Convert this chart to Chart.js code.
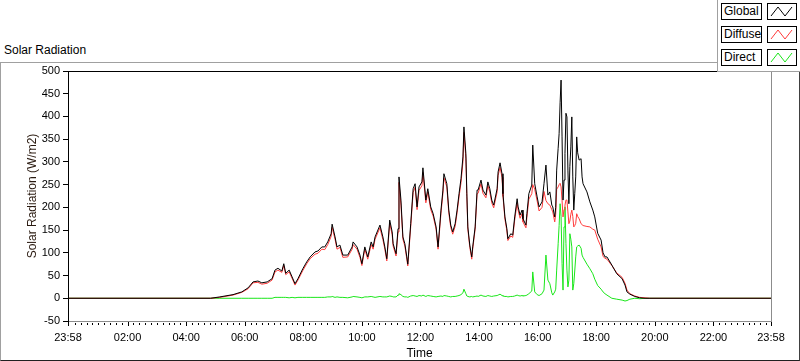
<!DOCTYPE html>
<html>
<head>
<meta charset="utf-8">
<script src="https://cdn.jsdelivr.net/npm/chart.js@4.4.1/dist/chart.umd.min.js"></script>
<style>
html, body { margin: 0; padding: 0; background: #fff; }
#wrap { position: relative; width: 800px; height: 361px; overflow: hidden; font-family: "Liberation Sans", Arial, sans-serif; }
#frame { position: absolute; left: 0; top: 62px; width: 798px; height: 297px; border-left: 1px solid #a0a0a0; border-top: 1px solid #a0a0a0; border-right: 1px solid #404040; border-bottom: 1px solid #202020; }
#caption { position: absolute; left: 4px; top: 43px; font-size: 12px; color: #000; }
canvas { position: absolute; left: 0; top: 0; }
#legend { position: absolute; left: 717px; top: 0; width: 83px; height: 72px; background: #fff; border-left: 1px solid #a0a0a0; border-bottom: 1px solid #a0a0a0; box-sizing: border-box; }
.lab { position: absolute; left: 3px; width: 41px; height: 17px; border: 1px solid #000; box-sizing: border-box; font-size: 12px; line-height: 15px; padding-left: 2px; color: #000; }
.sw { position: absolute; left: 49px; width: 30px; height: 17px; border: 1px solid #000; box-sizing: border-box; }
.sw svg { position: absolute; left: 0; top: 0; }
</style>
</head>
<body>
<div id="wrap">
  <div id="frame"></div>
  <div id="caption">Solar Radiation</div>
  <canvas id="myChart" width="800" height="361"></canvas>
  <div id="legend">
    <div class="lab" style="top:3px">Global</div>
    <div class="sw" style="top:3px"><svg width="28" height="15"><polyline points="3,12 10,3 17,12 24,3" fill="none" stroke="#000" stroke-width="1"/></svg></div>
    <div class="lab" style="top:26px">Diffuse</div>
    <div class="sw" style="top:26px"><svg width="28" height="15"><polyline points="3,12 10,3 17,12 24,3" fill="none" stroke="#ff3b3b" stroke-width="1"/></svg></div>
    <div class="lab" style="top:49px">Direct</div>
    <div class="sw" style="top:49px"><svg width="28" height="15"><polyline points="3,12 10,3 17,12 24,3" fill="none" stroke="#19e619" stroke-width="1"/></svg></div>
  </div>
</div>
<script>
// sample times (HH:MM) shared by the three series
const times = [
  '00:00','04:50','05:09','05:36','05:54','06:07','06:17','06:27','06:35','06:46',
  '06:56','07:02','07:08','07:16','07:20','07:24','07:31','07:37','07:43','07:49',
  '07:59','08:07','08:14','08:24','08:30','08:38','08:44','08:50','08:57','08:59',
  '09:05','09:09','09:15','09:21','09:31','09:40','09:42','09:50','09:56','10:00',
  '10:06','10:12','10:19','10:23','10:27','10:37','10:43','10:47','10:51','10:57',
  '11:02','11:04','11:10','11:14','11:16','11:20','11:24','11:28','11:32','11:34',
  '11:40','11:45','11:49','11:53','11:57','12:03','12:05','12:11','12:15','12:21',
  '12:26','12:32','12:36','12:42','12:46','12:48','12:54','12:58','13:02','13:06',
  '13:11','13:15','13:19','13:23','13:27','13:29','13:33','13:35','13:37','13:41',
  '13:45','13:47','13:52','13:56','13:58','14:04','14:08','14:14','14:18','14:22',
  '14:26','14:30','14:37','14:39','14:43','14:47','14:49','14:53','14:57','14:59',
  '15:05','15:09','15:13','15:18','15:20','15:24','15:28','15:30','15:36','15:38',
  '15:42','15:48','15:50','15:54','15:59','16:03','16:09','16:13','16:17','16:21',
  '16:25','16:29','16:31','16:35','16:37','16:39','16:42','16:44','16:46','16:48',
  '16:50','16:52','16:54','16:56','16:58','17:00','17:02','17:04','17:06','17:08',
  '17:10','17:12','17:14','17:16','17:18','17:20','17:22','17:25','17:29','17:31',
  '17:33','17:41','17:47','17:53','17:57','18:03','18:10','18:14','18:18','18:22',
  '18:32','18:42','18:53','18:59','19:03','19:09','19:19','19:29','19:40','19:50',
  '23:58'
];
const globalRad = [
  0, 0, 3, 8, 14, 23, 36, 38, 34, 36,
  43, 62, 66, 60, 76, 55, 62, 47, 32, 43,
  65, 80, 91, 102, 104, 113, 113, 124, 142, 163,
  135, 113, 117, 95, 95, 113, 124, 113, 95, 76,
  113, 91, 124, 113, 135, 161, 135, 113, 87, 172,
  146, 120, 98, 153, 267, 216, 135, 120, 91, 75,
  164, 241, 252, 201, 245, 256, 287, 216, 241, 201,
  186, 157, 113, 194, 238, 274, 252, 194, 161, 146,
  164, 194, 230, 263, 311, 377, 318, 230, 157, 117,
  91, 113, 157, 238, 238, 260, 238, 227, 256, 241,
  216, 205, 241, 278, 298, 274, 230, 179, 153, 131,
  142, 139, 179, 219, 201, 183, 194, 175, 161, 186,
  230, 249, 337, 252, 223, 201, 212, 252, 293, 227,
  234, 205, 201, 179, 200, 282, 330, 362, 430, 480,
  355, 216, 260, 318, 407, 399, 282, 208, 290, 333,
  399, 267, 194, 230, 267, 355, 320, 304, 307, 267,
  252, 234, 212, 194, 179, 143, 128, 100, 91, 91,
  73, 54, 43, 29, 14, 9, 4, 1, 0, 0,
  0
];
const diffuseRad = [
  0, 0, 2, 7, 13, 21, 34, 35, 31, 33,
  40, 58, 62, 57, 72, 52, 58, 44, 29, 40,
  61, 76, 87, 97, 99, 108, 107, 118, 136, 156,
  130, 108, 112, 90, 91, 108, 118, 108, 90, 72,
  108, 86, 118, 108, 130, 155, 129, 108, 82, 165,
  140, 115, 93, 146, 255, 205, 130, 115, 86, 71,
  157, 233, 244, 195, 237, 248, 277, 210, 234, 195,
  181, 152, 108, 187, 231, 265, 245, 188, 156, 141,
  158, 188, 223, 254, 300, 365, 308, 224, 152, 112,
  86, 108, 152, 230, 231, 252, 231, 221, 248, 234,
  210, 199, 234, 270, 288, 266, 224, 174, 148, 127,
  137, 134, 172, 210, 194, 176, 186, 168, 155, 178,
  218, 230, 250, 240, 214, 192, 200, 235, 215, 208,
  205, 195, 190, 168, 185, 240, 245, 250, 253, 245,
  215, 179, 195, 205, 216, 216, 190, 164, 170, 185,
  194, 180, 157, 160, 165, 186, 180, 175, 164, 162,
  160, 158, 157, 152, 150, 130, 113, 92, 88, 86,
  72, 56, 46, 33, 18, 10, 5, 2, 1, 0,
  0
];
const directRad = [
  0, 0, 0, 0, 0, 0, 0, 0, 0, 0,
  0, 2, 2, 2, 2, 2, 1, 2, 1, 2,
  2, 2, 2, 2, 2, 2, 2, 3, 3, 4,
  2, 3, 2, 2, 1, 3, 4, 3, 2, 1,
  3, 3, 4, 3, 2, 4, 3, 3, 3, 5,
  4, 3, 3, 7, 10, 8, 4, 3, 3, 2,
  5, 6, 5, 4, 6, 5, 7, 4, 6, 5,
  4, 3, 4, 5, 4, 6, 5, 4, 3, 4,
  4, 5, 6, 8, 12, 20, 10, 5, 4, 3,
  4, 3, 4, 5, 4, 7, 5, 4, 6, 5,
  4, 5, 6, 7, 9, 6, 5, 4, 4, 3,
  4, 4, 5, 7, 6, 5, 6, 5, 6, 7,
  10, 16, 58, 14, 8, 6, 10, 18, 95, 40,
  32, 12, 7, 14, 20, 62, 120, 160, 208, 180,
  77, 18, 157, 201, 120, 62, 25, 40, 142, 130,
  113, 18, 32, 60, 91, 113, 115, 117, 110, 95,
  90, 75, 65, 54, 42, 28, 20, 14, 10, 7,
  0, -2, -4, -6, -5, -2, 0, -1, 0, 0,
  0
];
// x axis tick positions in minutes (first one is 23:58 of the previous day)
const xTickMinutes = [-2, 120, 240, 360, 480, 600, 720, 840, 960, 1080, 1200, 1320, 1438];

const toMin = s => { const p = s.split(':'); return (+p[0]) * 60 + (+p[1]); };
const fmt = m => {
  const v = (m + 1440) % 1440;
  const h = Math.floor(v / 60), mm = v % 60;
  return String(h).padStart(2, '0') + ':' + String(mm).padStart(2, '0');
};
const pts = vals => times.map((t, i) => ({ x: toMin(t), y: vals[i] }));

const FONT = 'Liberation Sans';

// frame lines on top/right and the LabVIEW style major/minor tick marks
const frameTicks = {
  id: 'frameTicks',
  afterDraw(chart) {
    const { ctx, chartArea: a, scales: { x } } = chart;
    ctx.save();
    ctx.lineWidth = 1;
    ctx.strokeStyle = '#000';
    ctx.beginPath();
    ctx.moveTo(a.left, a.top + 0.5);
    ctx.lineTo(a.right + 1, a.top + 0.5);
    ctx.stroke();
    ctx.strokeStyle = '#8c8c8c';
    ctx.beginPath();
    ctx.moveTo(a.right + 0.5, a.top + 1);
    ctx.lineTo(a.right + 0.5, a.bottom);
    ctx.stroke();
    ctx.strokeStyle = '#000';
    ctx.beginPath();
    for (let m = 12; m < 1438; m += 12) {
      if (m % 120 === 0) continue;
      const px = Math.round(x.getPixelForValue(m)) + 0.5;
      ctx.moveTo(px, a.bottom + 2);
      ctx.lineTo(px, a.bottom + 4);
    }
    xTickMinutes.forEach(m => {
      const px = Math.round(x.getPixelForValue(m)) + 0.5;
      ctx.moveTo(px, a.bottom + 1);
      ctx.lineTo(px, a.bottom + 5);
    });
    ctx.stroke();
    ctx.restore();
  }
};

const data = {
  datasets: [
    { label: 'Global', data: pts(globalRad), borderColor: '#000000' },
    { label: 'Diffuse', data: pts(diffuseRad), borderColor: '#ff3b3b' },
    { label: 'Direct', data: pts(directRad), borderColor: '#19e619' }
  ]
};

const config = {
  type: 'line',
  data,
  options: {
    responsive: false,
    animation: false,
    devicePixelRatio: 1,
    layout: { padding: { left: 0, top: 71, right: 29, bottom: 0 } },
    plugins: { legend: { display: false }, tooltip: { enabled: false } },
    elements: {
      point: { radius: 0 },
      line: { borderWidth: 1, tension: 0, fill: false }
    },
    scales: {
      x: {
        type: 'linear',
        min: -2,
        max: 1438,
        afterBuildTicks: s => { s.ticks = xTickMinutes.map(v => ({ value: v })); },
        afterFit: s => { s.height = 40; },
        grid: { display: false },
        border: { display: true, color: '#8c8c8c' },
        ticks: {
          autoSkip: false, maxRotation: 0, padding: 2, color: '#000',
          font: { family: FONT, size: 11 },
          callback: v => fmt(v)
        },
        title: {
          display: true, text: 'Time', color: '#000',
          font: { family: FONT, size: 12 },
          padding: { top: 0, bottom: 0 }
        }
      },
      y: {
        min: -50,
        max: 500,
        afterFit: s => { s.width = 68; },
        grid: { drawOnChartArea: false, drawTicks: true, tickLength: 5, color: '#000' },
        border: { display: true, color: '#000' },
        ticks: {
          stepSize: 50, padding: 3, color: '#000',
          font: { family: FONT, size: 11 }
        },
        title: {
          display: true, text: 'Solar Radiation (W/m2)', color: '#2a1a10',
          font: { family: FONT, size: 12 },
          padding: { top: 25, bottom: 0 }
        }
      }
    }
  },
  plugins: [frameTicks]
};

const myChart = new Chart(
  document.getElementById('myChart'),
  config
);
</script>
</body>
</html>
